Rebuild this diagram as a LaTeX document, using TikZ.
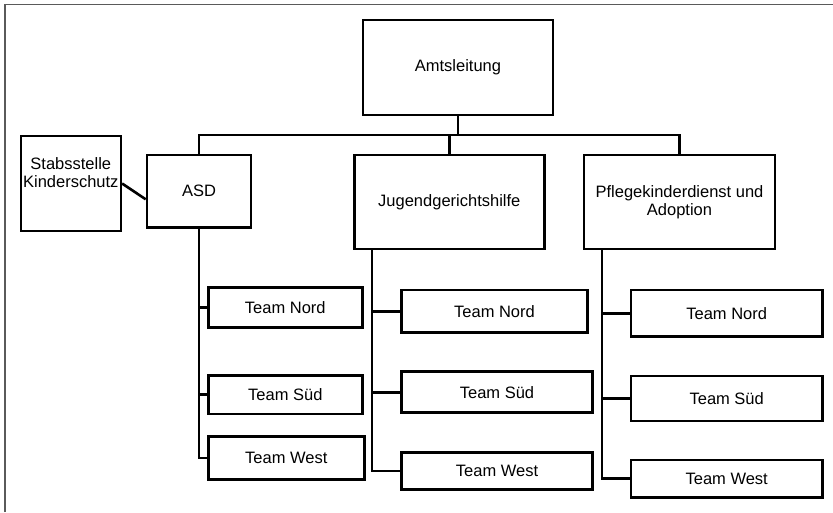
\documentclass[tikz,border=0pt]{standalone}
\usepackage{fontspec}
\setmainfont{Liberation Sans}
\usepackage{xcolor}
\definecolor{OrgFrame}{HTML}{5A5A5A}
\tikzset{
  unit/.style={draw=black,line width=2.6pt,inner sep=0pt,align=center,font=\fontsize{16.5}{18}\selectfont},
  link/.style={draw=black,line width=2.6pt}
}
\begin{document}
\begin{tikzpicture}[x=1pt,y=-1pt]
\path[use as bounding box] (0,0) rectangle (833,512);
\draw[OrgFrame,line width=1.2pt] (5,512) -- (5,4.5) -- (833,4.5);
% leitung und stab
\node[unit,minimum width=190pt,minimum height=95pt] (amt) at (458,67.5) {Amtsleitung};
\node[unit,text width=100pt,text height=33pt,text depth=62pt,anchor=base] (stab) at (70.8,169) {Stabsstelle\\Kinderschutz};
% abteilungen
\node[unit,minimum width=104pt,minimum height=72.7pt] (asd) at (199,191.3) {ASD};
\node[unit,minimum width=190pt,minimum height=94pt] (jgh) at (449.3,202) {Jugendgerichtshilfe};
\node[unit,minimum width=191pt,minimum height=94pt] (pfl) at (679.5,202) {Pflegekinderdienst und\\Adoption};
% teams ASD
\node[unit,minimum width=154pt,minimum height=40pt] (asdN) at (285.3,307.3) {Team Nord};
\node[unit,minimum width=154pt,minimum height=38.7pt] (asdS) at (285.3,394.7) {Team Süd};
\node[unit,minimum width=156pt,minimum height=42.6pt] (asdW) at (286.3,458) {Team West};
% teams JGH
\node[unit,minimum width=185.6pt,minimum height=42.3pt] (jghN) at (494.5,311.2) {Team Nord};
\node[unit,minimum width=190.6pt,minimum height=41pt] (jghS) at (497,392.2) {Team Süd};
\node[unit,minimum width=190.6pt,minimum height=37pt] (jghW) at (497,470.8) {Team West};
% teams PKD
\node[unit,minimum width=191.3pt,minimum height=46.7pt] (pflN) at (726.7,313.3) {Team Nord};
\node[unit,minimum width=191.3pt,minimum height=45pt] (pflS) at (726.7,398.5) {Team Süd};
\node[unit,minimum width=191.3pt,minimum height=37.3pt] (pflW) at (726.7,478.7) {Team West};
% verbindungen oben
\coordinate (bus) at (0,135);
\draw[link] (amt.south) -- (amt.south |- bus);
\draw[link] (asd.north) |- (bus -| pfl.north) -- (pfl.north);
\draw[link] (jgh.north) -- (jgh.north |- bus);
\draw[link] (stab.east) -- ([yshift=-8pt]asd.west);
% verbindungen teams
\coordinate (jghT) at ([xshift=19pt]jgh.south west);
\coordinate (pflT) at ([xshift=19.3pt]pfl.south west);
\draw[link] (asd.south) |- (asdW.west);
\draw[link] (jghT) |- (jghW.west);
\draw[link] (pflT) |- (pflW.west);
\foreach \t in {N,S} {
  \draw[link] (asd.south |- asd\t.west) -- (asd\t.west);
  \draw[link] (jghT |- jgh\t.west) -- (jgh\t.west);
  \draw[link] (pflT |- pfl\t.west) -- (pfl\t.west);
}
\end{tikzpicture}
\end{document}
